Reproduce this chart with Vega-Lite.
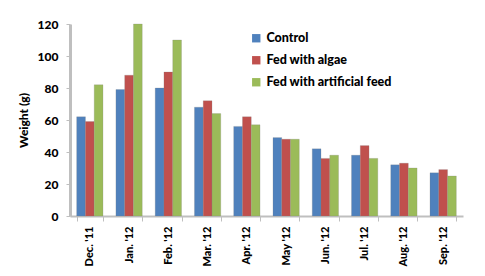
{
  "$schema": "https://vega.github.io/schema/vega-lite/v6.json",
  "autosize": {"type": "none"},
  "padding": {"left": 70, "top": 24, "right": 22, "bottom": 60},
  "width": 393,
  "height": 192,
  "background": "white",
  "config": {
    "view": {"stroke": null},
    "font": "Lato",
    "axis": {"labelFont": "Lato", "labelFontWeight": 900, "labelColor": "black", "titleFont": "Lato", "titleFontWeight": 900, "titleColor": "black", "grid": false},
    "legend": {"labelFont": "Lato", "labelFontWeight": 900, "labelColor": "black"}
  },
  "data": {
    "values": [
      {"month": "Dec. '11", "group": "Control", "weight": 62},
      {"month": "Dec. '11", "group": "Fed with algae", "weight": 59},
      {"month": "Dec. '11", "group": "Fed with artificial feed", "weight": 82},
      {"month": "Jan. '12", "group": "Control", "weight": 79},
      {"month": "Jan. '12", "group": "Fed with algae", "weight": 88},
      {"month": "Jan. '12", "group": "Fed with artificial feed", "weight": 120},
      {"month": "Feb. '12", "group": "Control", "weight": 80},
      {"month": "Feb. '12", "group": "Fed with algae", "weight": 90},
      {"month": "Feb. '12", "group": "Fed with artificial feed", "weight": 110},
      {"month": "Mar. '12", "group": "Control", "weight": 68},
      {"month": "Mar. '12", "group": "Fed with algae", "weight": 72},
      {"month": "Mar. '12", "group": "Fed with artificial feed", "weight": 64},
      {"month": "Apr. '12", "group": "Control", "weight": 56},
      {"month": "Apr. '12", "group": "Fed with algae", "weight": 62},
      {"month": "Apr. '12", "group": "Fed with artificial feed", "weight": 57},
      {"month": "May '12", "group": "Control", "weight": 49},
      {"month": "May '12", "group": "Fed with algae", "weight": 48},
      {"month": "May '12", "group": "Fed with artificial feed", "weight": 48},
      {"month": "Jun. '12", "group": "Control", "weight": 42},
      {"month": "Jun. '12", "group": "Fed with algae", "weight": 36},
      {"month": "Jun. '12", "group": "Fed with artificial feed", "weight": 38},
      {"month": "Jul. '12", "group": "Control", "weight": 38},
      {"month": "Jul. '12", "group": "Fed with algae", "weight": 44},
      {"month": "Jul. '12", "group": "Fed with artificial feed", "weight": 36},
      {"month": "Aug. '12", "group": "Control", "weight": 32},
      {"month": "Aug. '12", "group": "Fed with algae", "weight": 33},
      {"month": "Aug. '12", "group": "Fed with artificial feed", "weight": 30},
      {"month": "Sep. '12", "group": "Control", "weight": 27},
      {"month": "Sep. '12", "group": "Fed with algae", "weight": 29},
      {"month": "Sep. '12", "group": "Fed with artificial feed", "weight": 25}
    ]
  },
  "mark": {"type": "bar", "stroke": "#7f7f7f", "strokeWidth": 0.4, "strokeOpacity": 0.6},
  "encoding": {
    "x": {
      "field": "month", "type": "nominal", "sort": null,
      "scale": {"paddingInner": 0.33, "paddingOuter": 0.17},
      "axis": {"title": null, "labelAngle": -90, "labelFontSize": 11, "labelAlign": "right", "labelBaseline": "middle", "labelPadding": 5,
               "domainColor": "#bfbfbf", "domainWidth": 2, "tickColor": "#bfbfbf", "tickSize": 5, "tickBand": "extent"}
    },
    "xOffset": {"field": "group", "type": "nominal", "sort": ["Control", "Fed with algae", "Fed with artificial feed"]},
    "y": {
      "field": "weight", "type": "quantitative",
      "scale": {"domain": [0, 120]},
      "axis": {"title": "Weight (g)", "titleFontSize": 12, "titlePadding": 7, "labelFontSize": 12, "values": [0, 20, 40, 60, 80, 100, 120], "labelPadding": 8,
               "domainColor": "#bfbfbf", "domainWidth": 3, "tickColor": "#bfbfbf", "tickSize": 4}
    },
    "color": {
      "field": "group", "type": "nominal",
      "sort": ["Control", "Fed with algae", "Fed with artificial feed"],
      "scale": {"domain": ["Control", "Fed with algae", "Fed with artificial feed"], "range": ["#4F81BD", "#C0504D", "#9BBB59"]},
      "legend": {"title": null, "orient": "none", "legendX": 180, "legendY": 8, "symbolType": "square", "symbolSize": 70, "symbolStrokeWidth": 0, "labelFontSize": 12.5, "rowPadding": 9, "labelOffset": 4}
    }
  }
}
